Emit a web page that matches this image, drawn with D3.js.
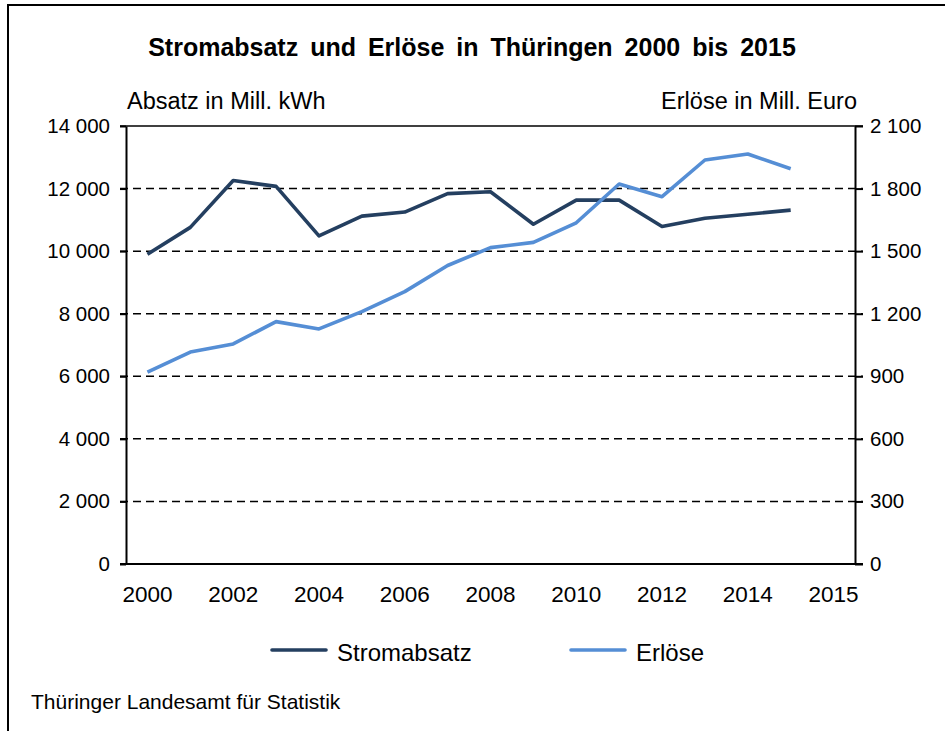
<!DOCTYPE html>
<html>
  <head>
    <meta charset="utf-8" />
    <style>
      body { margin: 0; background: #fff; }
      svg text { font-family: 'Liberation Sans', Arial, sans-serif; fill: #000; }
    </style>
  </head>
  <body>

<svg id="chart"></svg>

<script src="https://d3js.org/d3.v7.min.js"></script>
<script>
// taille du svg
const WIDTH = 945
const HEIGHT = 731

// les données
const YEARS = [2000, 2001, 2002, 2003, 2004, 2005, 2006, 2007, 2008, 2009, 2010, 2011, 2012, 2013, 2014, 2015]
// Stromabsatz in Mill. kWh
const ABSATZ = [9900, 10760, 12260, 12070, 10490, 11120, 11250, 11840, 11900, 10860, 11630, 11630, 10790, 11050, 11180, 11310]
// Erlöse in Mill. Euro
const ERLOESE = [920, 1016, 1055, 1162, 1127, 1210, 1306, 1431, 1517, 1542, 1636, 1822, 1761, 1937, 1966, 1895]
// graduations
const LEFT_TICKS = [0, 2000, 4000, 6000, 8000, 10000, 12000, 14000]
const RIGHT_TICKS = [0, 300, 600, 900, 1200, 1500, 1800, 2100]
const X_LABELS = ['2000', '2002', '2004', '2006', '2008', '2010', '2012', '2014', '2015']

// zone du graphique
const PLOT_LEFT = 126
const PLOT_RIGHT = 855
const PLOT_TOP = 126
const PLOT_BOTTOM = 564
// l'axe X a une case de plus que les années
const SLOTS = d3.range(YEARS.length + 1)

const fmt = d3.formatLocale({ decimal: ',', thousands: ' ', grouping: [3], currency: ['', ''] }).format(',d')

const svg = d3.select('#chart')
  .attr('width', WIDTH)
  .attr('height', HEIGHT)

svg.append('rect')
  .attr('width', WIDTH)
  .attr('height', HEIGHT)
  .attr('fill', '#fff')

// cadre (haut et gauche)
svg.append('path')
  .attr('d', `M8,${HEIGHT} V5 H${WIDTH}`)
  .attr('fill', 'none')
  .attr('stroke', '#000')
  .attr('stroke-width', 2)

// échelles
const xScale = d3.scaleBand()
  .domain(SLOTS)
  .range([PLOT_LEFT, PLOT_RIGHT])
const xMid = s => xScale(s) + xScale.bandwidth() / 2

const yLeft = d3.scaleLinear()
  .domain([0, 14000])
  .range([PLOT_BOTTOM, PLOT_TOP])

const yRight = d3.scaleLinear()
  .domain([0, 2100])
  .range([PLOT_BOTTOM, PLOT_TOP])

// lignes de grille
svg.append('g')
  .selectAll('line')
  .data(LEFT_TICKS.filter(d => d > 0))
  .join('line')
    .attr('x1', PLOT_LEFT - 6)
    .attr('x2', PLOT_RIGHT + 8)
    .attr('y1', d => yLeft(d))
    .attr('y2', d => yLeft(d))
    .attr('stroke', '#000')
    .attr('stroke-width', 1.5)
    .attr('stroke-dasharray', d => d === 14000 ? null : '8,5')

// axe gauche
const axisLeft = svg.append('g')
  .attr('transform', `translate(${PLOT_LEFT},0)`)
  .call(d3.axisLeft(yLeft).tickValues(LEFT_TICKS).tickFormat(fmt).tickSize(6).tickSizeOuter(0).tickPadding(10))
axisLeft.selectAll('path, line').attr('stroke', '#000').attr('stroke-width', 2)
axisLeft.selectAll('text').attr('font-size', 20.5).attr('font-family', null)

// axe droit
const axisRight = svg.append('g')
  .attr('transform', `translate(${PLOT_RIGHT},0)`)
  .call(d3.axisRight(yRight).tickValues(RIGHT_TICKS).tickFormat(fmt).tickSize(8).tickSizeOuter(0).tickPadding(7))
axisRight.selectAll('path, line').attr('stroke', '#000').attr('stroke-width', 2)
axisRight.selectAll('text').attr('font-size', 20.5).attr('font-family', null)

// axe X : une étiquette toutes les deux cases
const labelSlots = X_LABELS.map((d, i) => i * 2)
const axisX = svg.append('g')
  .attr('transform', `translate(0,${PLOT_BOTTOM})`)
  .call(d3.axisBottom(xScale).tickValues(labelSlots).tickFormat((d, i) => X_LABELS[i]).tickSize(0).tickPadding(22))
axisX.select('.domain').remove()
axisX.selectAll('text').attr('font-size', 22.5).attr('font-family', null)

svg.append('line')
  .attr('x1', PLOT_LEFT - 6)
  .attr('x2', PLOT_RIGHT + 8)
  .attr('y1', PLOT_BOTTOM)
  .attr('y2', PLOT_BOTTOM)
  .attr('stroke', '#000')
  .attr('stroke-width', 2)

// les courbes
const SERIES = [
  { name: 'Stromabsatz', values: ABSATZ, scale: yLeft, color: '#243F60' },
  { name: 'Erlöse', values: ERLOESE, scale: yRight, color: '#558ED5' },
]

SERIES.forEach(s => {
  const line = d3.line()
    .x((d, i) => xMid(YEARS[i] - YEARS[0]))
    .y(d => s.scale(d))
  svg.append('path')
    .datum(s.values)
    .attr('d', line)
    .attr('fill', 'none')
    .attr('stroke', s.color)
    .attr('stroke-width', 3.6)
    .attr('stroke-linejoin', 'round')
})

// titres
svg.append('text')
  .attr('x', 472)
  .attr('y', 56)
  .attr('text-anchor', 'middle')
  .attr('font-size', 25)
  .attr('font-weight', 'bold')
  .attr('word-spacing', 5)
  .text('Stromabsatz und Erlöse in Thüringen 2000 bis 2015')

svg.append('text')
  .attr('x', 127)
  .attr('y', 109)
  .attr('font-size', 23.5)
  .text('Absatz in Mill. kWh')

svg.append('text')
  .attr('x', 857)
  .attr('y', 109)
  .attr('text-anchor', 'end')
  .attr('font-size', 23.5)
  .text('Erlöse in Mill. Euro')

// légende
const legend = svg.append('g')
  .selectAll('g')
  .data(SERIES)
  .join('g')
    .attr('transform', (d, i) => `translate(${272 + i * 299},650)`)

legend.append('line')
  .attr('x1', 0)
  .attr('x2', 54)
  .attr('stroke', d => d.color)
  .attr('stroke-width', 3.6)
  .attr('stroke-linecap', 'round')

legend.append('text')
  .attr('x', 65)
  .attr('y', 11)
  .attr('font-size', 24)
  .text(d => d.name)

// source
svg.append('text')
  .attr('x', 31)
  .attr('y', 709)
  .attr('font-size', 21)
  .text('Thüringer Landesamt für Statistik')

</script>
  </body>
</html>
